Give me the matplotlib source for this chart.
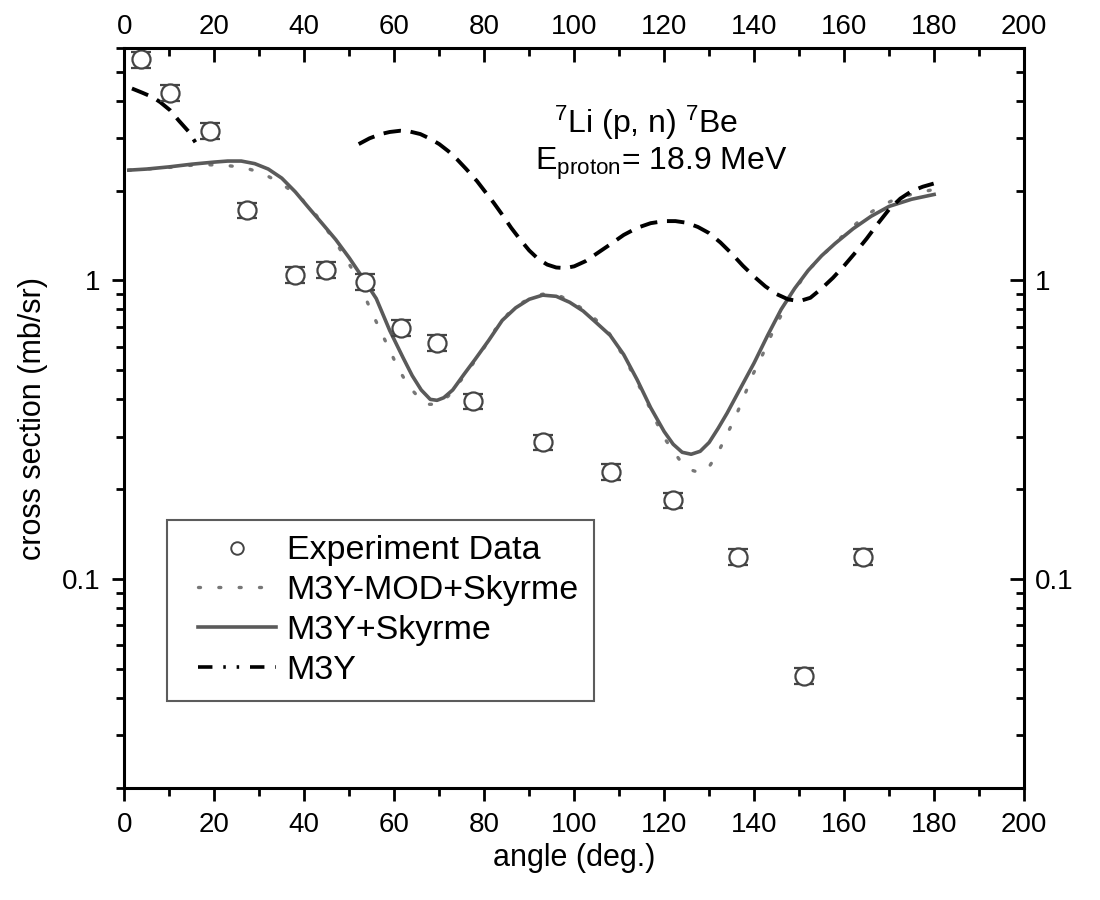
import matplotlib
matplotlib.use("Agg")
import matplotlib.pyplot as plt
import numpy as np
from matplotlib.lines import Line2D
from matplotlib.legend_handler import HandlerLine2D
from matplotlib.ticker import LogLocator, NullFormatter, FixedLocator, FixedFormatter

plt.rcParams['font.family'] = ['Liberation Sans', 'DejaVu Sans']
plt.rcParams['mathtext.fontset'] = 'custom'
plt.rcParams['mathtext.rm'] = 'Liberation Sans'
plt.rcParams['mathtext.it'] = 'Liberation Sans:italic'

# experiment data (angle in deg, cross section in mb/sr)
exp_angle = [3.7, 10.1, 19.1, 27.3, 38.0, 44.9, 53.4, 61.5, 69.5, 77.6,
             93.1, 108.2, 122.0, 136.5, 151.1, 164.2]
exp_xs = [5.49, 4.24, 3.17, 1.72, 1.045, 1.087, 0.99, 0.695, 0.618, 0.394,
          0.287, 0.229, 0.184, 0.119, 0.0476, 0.119]
exp_err = [0.06 * v for v in exp_xs]

# M3Y+Skyrme (solid)
sky_angle = [1, 5, 10, 15, 20, 23, 26, 29, 32, 35, 38, 41, 44, 47, 50, 53,
             56, 59, 62, 64, 66, 68, 69.5, 71, 73, 75.5, 78, 81, 84, 87, 90,
             93, 96, 99, 102, 105, 108, 111, 114, 117, 120, 122, 124, 126,
             128, 130, 132, 134, 137, 140, 143, 146, 149, 152, 155, 158, 162,
             166, 170, 175, 180]
sky_xs = [2.34, 2.36, 2.40, 2.45, 2.49, 2.51, 2.51, 2.46, 2.36, 2.20, 1.98,
          1.75, 1.55, 1.37, 1.19, 1.02, 0.87, 0.68, 0.55, 0.48, 0.43, 0.40,
          0.397, 0.405, 0.43, 0.485, 0.545, 0.63, 0.735, 0.81, 0.865, 0.893,
          0.885, 0.845, 0.79, 0.72, 0.655, 0.565, 0.465, 0.375, 0.312, 0.283,
          0.266, 0.262, 0.268, 0.287, 0.32, 0.36, 0.437, 0.53, 0.655, 0.80,
          0.94, 1.08, 1.21, 1.33, 1.49, 1.64, 1.77, 1.87, 1.94]

# M3Y-MOD+Skyrme (dotted)
mod_angle = [1, 5, 10, 15, 18.2, 22.2, 26.5, 30.6, 34.7, 38.9, 42.7, 46.9,
             51, 54.9, 56.7, 59, 60.8, 63.2, 65.5, 67.3, 69.5, 72, 75.4, 79.8,
             83.6, 87.3, 91.3, 94, 97, 100, 103.5, 107.3, 111.3, 115.4, 119.8,
             123.9, 126, 128, 130, 131.9, 135.8, 137.6, 139.7, 141.7, 143.8,
             147.5, 151.7, 157.6, 164.3, 168, 172, 176, 180.2]
mod_xs = [2.34, 2.36, 2.39, 2.43, 2.44, 2.43, 2.39, 2.29, 2.12, 1.91, 1.65,
          1.35, 1.07, 0.79, 0.69, 0.585, 0.51, 0.443, 0.405, 0.385, 0.385,
          0.41, 0.475, 0.59, 0.73, 0.825, 0.89, 0.905, 0.885, 0.84, 0.77,
          0.683, 0.547, 0.415, 0.30, 0.245, 0.232, 0.227, 0.238, 0.264, 0.348,
          0.404, 0.484, 0.557, 0.656, 0.85, 1.07, 1.32, 1.63, 1.77, 1.89,
          1.96, 2.02]

# M3Y (dashed), gap between the two visible pieces
m3y_angle = [1.7, 4, 6.4, 8, 10.2, 12.1, 14.3, 15.8, np.nan,
             52.1, 54.5, 57, 59, 61.3, 63.5, 65.8, 68, 70, 72, 74, 76, 78.4,
             80, 82.1, 84, 86, 88, 90, 92, 94, 96, 98, 100, 102.5, 105, 108,
             111, 114, 117, 120, 122.5, 125, 127.5, 130, 132.5, 135, 137.5,
             140, 142.5, 145, 147.5, 150, 152.5, 155, 157.5, 160, 162.5, 165,
             167.5, 170, 172.5, 175, 177.5, 179.9]
m3y_xs = [4.39, 4.25, 4.10, 3.95, 3.71, 3.43, 3.15, 2.90, np.nan,
          2.86, 2.99, 3.09, 3.14, 3.17, 3.15, 3.09, 2.98, 2.86, 2.71, 2.54,
          2.36, 2.15, 2.00, 1.82, 1.66, 1.50, 1.37, 1.26, 1.18, 1.13, 1.105,
          1.10, 1.115, 1.16, 1.23, 1.32, 1.42, 1.50, 1.555, 1.58, 1.58, 1.56,
          1.51, 1.44, 1.34, 1.23, 1.12, 1.03, 0.955, 0.90, 0.865, 0.852, 0.875,
          0.94, 1.02, 1.12, 1.24, 1.38, 1.55, 1.73, 1.88, 1.99, 2.06, 2.11]

xticks = [0, 20, 40, 60, 80, 100, 120, 140, 160, 180, 200]
yticks = [0.1, 1]
ytick_labels = ['0.1', '1']

fig = plt.figure(figsize=(11, 9), dpi=100)
ax = fig.add_axes([0.113, 0.1244, 0.818, 0.8223])

dotted = (0, (0.6, 5.5))
ax.plot(mod_angle, mod_xs, color='#777777', lw=2.4, linestyle=dotted,
        dash_capstyle='round')
ax.plot(sky_angle, sky_xs, color='#5a5a5a', lw=2.6)
ax.plot(m3y_angle, m3y_xs, color='black', lw=2.8, linestyle=(0, (4.5, 2.5)))
ax.errorbar(exp_angle, exp_xs, yerr=exp_err, fmt='o', ms=13, mfc='white',
            mec='#444444', mew=1.6, ecolor='#444444', elinewidth=1.4,
            capsize=7, capthick=2.2)

ax.set_yscale('log')
ax.set_xlim(0, 200)
ax.set_ylim(0.02, 6)

ax.xaxis.set_major_locator(FixedLocator(xticks))
ax.xaxis.set_minor_locator(FixedLocator([x + 10 for x in xticks[:-1]]))
ax.yaxis.set_major_locator(FixedLocator(yticks))
ax.yaxis.set_major_formatter(FixedFormatter(ytick_labels))
ax.yaxis.set_minor_locator(LogLocator(base=10, subs=np.arange(2, 10)))
ax.yaxis.set_minor_formatter(NullFormatter())

for s in ax.spines.values():
    s.set_linewidth(2.2)

ax.tick_params(which='major', direction='out', length=9, width=2, labelsize=20, pad=8)
ax.tick_params(which='minor', direction='out', length=5.5, width=2)

# top axis
axt = ax.twiny()
axt.set_xlim(0, 200)
axt.xaxis.set_major_locator(FixedLocator(xticks))
axt.xaxis.set_minor_locator(FixedLocator([x + 10 for x in xticks[:-1]]))
axt.tick_params(which='major', direction='in', length=10, width=2, labelsize=20, pad=6)
axt.tick_params(which='minor', direction='in', length=5.5, width=2)

# right axis
axr = ax.twinx()
axr.set_yscale('log')
axr.set_ylim(0.02, 6)
axr.yaxis.set_major_locator(FixedLocator(yticks))
axr.yaxis.set_major_formatter(FixedFormatter(ytick_labels))
axr.yaxis.set_minor_locator(LogLocator(base=10, subs=np.arange(2, 10)))
axr.yaxis.set_minor_formatter(NullFormatter())
axr.tick_params(which='major', direction='in', length=10, width=2, labelsize=20, pad=8)
axr.tick_params(which='minor', direction='in', length=5.5, width=2)

ax.set_xlabel('angle (deg.)', fontsize=22, labelpad=4)
ax.set_ylabel('cross section (mb/sr)', fontsize=22, labelpad=10)

ax.text(0.58, 0.899, r'$^{7}$Li (p, n) $^{7}$Be', transform=ax.transAxes,
        ha='center', va='center', fontsize=23)
ax.text(0.597, 0.843, r'E$_{\mathrm{proton}}$= 18.9 MeV', transform=ax.transAxes,
        ha='center', va='center', fontsize=23)

handles = [
    Line2D([], [], linestyle='none', marker='o', ms=9, mfc='white',
           mec='#444444', mew=1.4),
    Line2D([], [], color='#777777', lw=2.4, linestyle=dotted, dash_capstyle='round'),
    Line2D([], [], color='#5a5a5a', lw=2.6),
    Line2D([], [], color='black', lw=2.6, linestyle=(0, (4, 3, 0.7, 3, 0.7, 3))),
]
labels = ['Experiment Data', 'M3Y-MOD+Skyrme', 'M3Y+Skyrme', 'M3Y']
leg = ax.legend(handles, labels, loc='upper left', bbox_to_anchor=(0.048, 0.362),
                borderaxespad=0, fontsize=24.5, frameon=True, fancybox=False,
                handlelength=2.75, handletextpad=0.3, labelspacing=0.26,
                borderpad=0.45, handler_map={Line2D: HandlerLine2D(xpad=0.45)})
leg.get_frame().set_edgecolor('#333333')
leg.get_frame().set_linewidth(1.5)

fig.savefig('out.png', dpi=100)
